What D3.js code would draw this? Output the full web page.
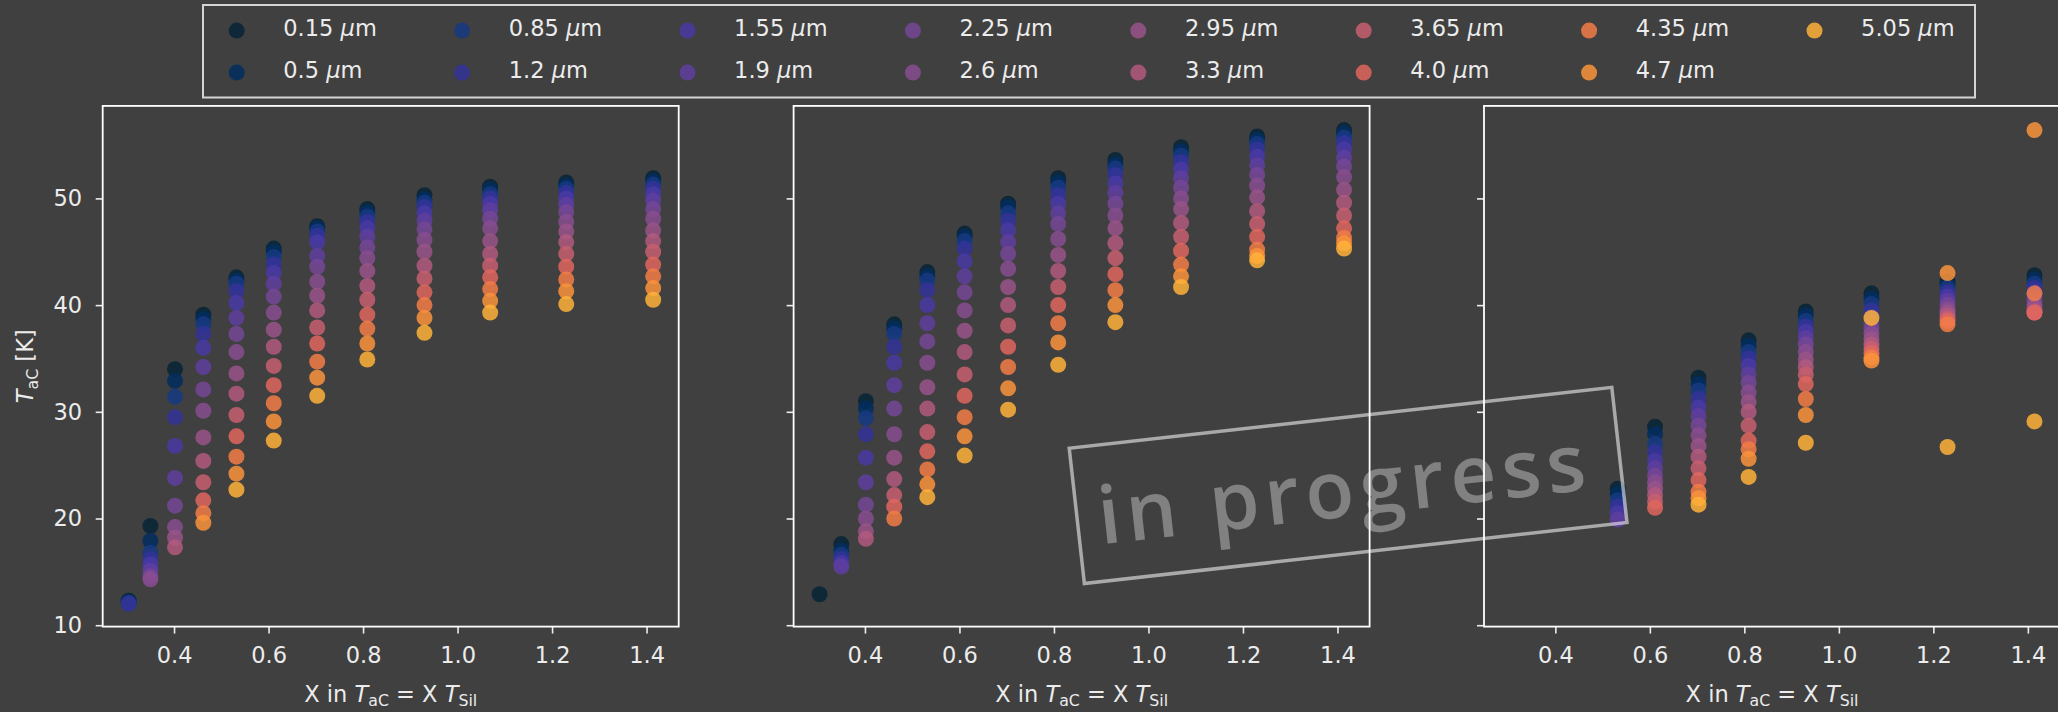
<!DOCTYPE html>
<html>
<head>
<meta charset="utf-8">
<script src="https://cdn.jsdelivr.net/npm/d3@7"></script>
<style>
  html, body { margin: 0; padding: 0; background: #404040; }
  svg { display: block; }
</style>
</head>
<body>
<svg id="chart" width="2058" height="712"></svg>
<script>
// ---- data -------------------------------------------------------------
// scaling factor X (T_aC = X * T_Sil) at which each column was computed
const xValues = [0.304, 0.350, 0.402, 0.462, 0.532, 0.611, 0.703, 0.809, 0.930, 1.069, 1.230, 1.414];

// grain sizes in micrometres (legend order)
const grainSizes = ["0.15", "0.5", "0.85", "1.2", "1.55", "1.9", "2.25", "2.6",
                    "2.95", "3.3", "3.65", "4.0", "4.35", "4.7", "5.05"];

const seriesColors = ["#072437", "#012d5f", "#183982", "#323299", "#4939a3",
                      "#5f3e9f", "#764797", "#884d90", "#995388", "#b1597f",
                      "#c85f70", "#e0665f", "#f27c47", "#fa933b", "#ffb139"];

const xTicks = [0.4, 0.6, 0.8, 1.0, 1.2, 1.4];
const yTicks = [10, 20, 30, 40, 50];

// T_aC [K] per column (one row per X value, one entry per grain size; null = no solution)
const leftPanel = [
  [12.3, 12.2, 12.1, 12.0, null, null, null, null, null, null, null, null, null, null, null],
  [19.3, 17.9, 16.8, 16.2, 15.7, 15.1, 14.6, 14.3, null, null, null, null, null, null, null],
  [34.0, 32.9, 31.4, 29.5, 26.8, 23.8, 21.2, 19.2, 18.2, 17.3, null, null, null, null, null],
  [39.1, 38.7, 38.2, 37.3, 36.0, 34.2, 32.1, 30.1, 27.6, 25.4, 23.4, 21.7, 20.5, 19.6, null],
  [42.6, 42.3, 42.0, 41.3, 40.2, 38.8, 37.3, 35.6, 33.6, 31.7, 29.7, 27.7, 25.8, 24.2, 22.7],
  [45.3, 45.0, 44.5, 43.8, 43.0, 42.0, 40.8, 39.3, 37.7, 36.1, 34.3, 32.5, 30.8, 29.1, 27.3],
  [47.4, 47.2, 46.9, 46.5, 45.9, 44.6, 43.6, 42.2, 40.9, 39.5, 37.9, 36.4, 34.7, 33.2, 31.5],
  [49.0, 48.7, 48.3, 47.8, 47.2, 46.4, 45.4, 44.4, 43.2, 41.8, 40.5, 39.1, 37.8, 36.4, 34.9],
  [50.3, 49.9, 49.6, 49.2, 48.6, 47.9, 47.1, 46.1, 45.0, 43.7, 42.5, 41.2, 40.0, 38.8, 37.4],
  [51.1, 50.8, 50.4, 50.0, 49.5, 48.9, 48.1, 47.2, 46.0, 44.8, 43.7, 42.6, 41.5, 40.4, 39.3],
  [51.5, 51.2, 50.9, 50.5, 50.0, 49.4, 48.7, 47.8, 46.9, 45.9, 44.8, 43.6, 42.4, 41.3, 40.1],
  [51.9, 51.6, 51.3, 50.9, 50.4, 49.8, 49.0, 48.1, 47.0, 46.0, 45.0, 43.8, 42.7, 41.6, 40.5]
];

const middlePanel = [
  [12.9, null, null, null, null, null, null, null, null, null, null, null, null, null, null],
  [17.6, 17.0, 16.6, 16.2, 15.8, 15.5, null, null, null, null, null, null, null, null, null],
  [31.0, 30.3, 29.4, 27.9, 25.7, 23.4, 21.3, 20.0, 18.8, 18.1, null, null, null, null, null],
  [38.2, 37.8, 37.3, 36.1, 34.6, 32.5, 30.3, 27.9, 25.7, 23.7, 22.2, 21.1, 20.0, null, null],
  [43.1, 42.7, 42.3, 41.4, 40.0, 38.3, 36.6, 34.6, 32.3, 30.3, 28.1, 26.3, 24.6, 23.2, 22.0],
  [46.7, 46.4, 46.0, 45.3, 44.1, 42.7, 41.2, 39.5, 37.6, 35.6, 33.5, 31.5, 29.5, 27.7, 25.9],
  [49.5, 49.2, 48.6, 47.9, 47.0, 45.9, 44.8, 43.4, 41.7, 40.0, 38.1, 36.1, 34.2, 32.2, 30.2],
  [51.9, 51.5, 51.0, 50.3, 49.5, 48.6, 47.6, 46.2, 44.7, 43.2, 41.7, 40.0, 38.3, 36.5, 34.4],
  [53.6, 53.2, 52.8, 52.2, 51.4, 50.5, 49.5, 48.4, 47.2, 45.8, 44.4, 42.9, 41.4, 40.0, 38.4],
  [54.8, 54.4, 54.0, 53.4, 52.7, 51.9, 51.0, 50.0, 49.0, 47.7, 46.4, 45.1, 43.8, 42.7, 41.7],
  [55.8, 55.5, 55.1, 54.6, 53.9, 53.1, 52.2, 51.2, 50.1, 48.8, 47.6, 46.4, 45.2, 44.6, 44.2],
  [56.4, 56.1, 55.7, 55.2, 54.6, 53.8, 53.0, 52.0, 50.8, 49.6, 48.4, 47.2, 46.3, 45.8, 45.3]
];

const rightPanel = [
  [null, null, null, null, null, null, null, null, null, null, null, null, null, null, null],
  [null, null, null, null, null, null, null, null, null, null, null, null, null, null, null],
  [null, null, null, null, null, null, null, null, null, null, null, null, null, null, null],
  [null, null, null, null, null, null, null, null, null, null, null, null, null, null, null],
  [22.8, 22.3, 21.7, 21.1, 20.5, 19.9, null, null, null, null, null, null, null, null, null],
  [28.6, 27.9, 27.0, 26.2, 25.4, 24.7, 24.0, 23.4, 22.8, 22.2, 21.6, 21.0, null, null, null],
  [33.2, 32.6, 32.0, 31.2, 30.4, 29.6, 28.7, 27.8, 26.8, 25.8, 24.7, 23.6, 22.5, 21.9, 21.3],
  [36.7, 36.2, 35.6, 35.0, 34.3, 33.5, 32.7, 31.8, 30.9, 30.0, 28.7, 27.3, 26.5, 25.6, 23.9],
  [39.4, 39.0, 38.5, 38.0, 37.5, 36.9, 36.3, 35.6, 34.9, 34.2, 33.5, 32.6, 31.2, 29.7, 27.1],
  [41.1, 40.6, 40.1, 39.5, 38.9, 38.3, 37.8, 37.3, 36.8, 36.3, 35.9, 35.5, 35.1, 34.8, 38.8],
  [42.2, 41.9, 41.6, 41.2, 40.8, 40.4, 40.0, 39.6, 39.3, 39.0, 38.7, 38.5, 38.2, 43.0, 26.7],
  [42.8, 42.4, 42.0, 41.6, 41.2, 40.8, 40.4, 40.0, 39.7, 39.4, 39.3, 39.3, 41.1, 56.4, 29.1]
];

const panels = [leftPanel, middlePanel, rightPanel];

// ---- layout -------------------------------------------------------------
const panelLefts = [102.7, 793.6, 1484.0];
const plotTop = 105.9, plotW = 576, plotH = 520.7;
const xDomain = [0.249, 1.468];
const yDomain = [9.87, 58.67];
const fg = "#ececec";
const fontMain = "'DejaVu Sans', sans-serif";
const fontSize = 22.5;
const markerR = 8;
const markerAlpha = 0.85;

const svg = d3.select("#chart");
svg.append("rect").attr("width", 2058).attr("height", 712).attr("fill", "#404040");

const x = d3.scaleLinear().domain(xDomain).range([0, plotW]);
const y = d3.scaleLinear().domain(yDomain).range([plotH, 0]);

// appends "T" (italic) with an upright subscript
function addTsub(textSel, sub, size) {
  textSel.append("tspan").attr("font-style", "italic").text("T");
  textSel.append("tspan").attr("font-size", size * 0.7).attr("dy", size * 0.2).text(sub);
  return textSel;
}

panels.forEach((cols, p) => {
  const g = svg.append("g").attr("transform", `translate(${panelLefts[p]},${plotTop})`);

  // scatter markers, one series at a time
  grainSizes.forEach((gs, s) => {
    const pts = [];
    cols.forEach((col, xi) => { if (col[s] != null) pts.push({ x: xValues[xi], y: col[s] }); });
    g.append("g").selectAll("circle").data(pts).join("circle")
      .attr("cx", d => x(d.x)).attr("cy", d => y(d.y)).attr("r", markerR)
      .attr("fill", seriesColors[s]).attr("fill-opacity", markerAlpha);
  });

  // axes
  const xAxis = d3.axisBottom(x).tickValues(xTicks).tickFormat(d3.format(".1f"))
    .tickSize(7).tickPadding(13.7);
  const yAxis = d3.axisLeft(y).tickValues(yTicks).tickSize(7).tickPadding(13.5)
    .tickFormat(p === 0 ? d3.format("d") : () => "");

  const gx = g.append("g").attr("transform", `translate(0,${plotH})`).call(xAxis);
  const gy = g.append("g").call(yAxis);
  [gx, gy].forEach(a => {
    a.select(".domain").remove();
    a.selectAll(".tick line").attr("stroke", fg).attr("stroke-width", 1.6);
    a.selectAll(".tick text").attr("fill", fg).attr("font-family", fontMain).attr("font-size", fontSize);
  });

  // frame
  g.append("rect").attr("width", plotW).attr("height", plotH)
    .attr("fill", "none").attr("stroke", "#ffffff").attr("stroke-width", 1.8);

  // x label
  const xl = g.append("text").attr("x", plotW / 2).attr("y", 702 - plotTop)
    .attr("text-anchor", "middle").attr("fill", fg)
    .attr("font-family", fontMain).attr("font-size", fontSize);
  xl.append("tspan").text("X in ");
  addTsub(xl, "aC", fontSize);
  xl.append("tspan").attr("dy", -fontSize * 0.2).text(" = X ");
  addTsub(xl, "Sil", fontSize);
});

// y label
const yl = svg.append("text")
  .attr("transform", `translate(33,${plotTop + plotH / 2}) rotate(-90)`)
  .attr("text-anchor", "middle").attr("fill", fg)
  .attr("font-family", fontMain).attr("font-size", fontSize);
addTsub(yl, "aC", fontSize);
yl.append("tspan").attr("dy", -fontSize * 0.2).text(" [K]");

// legend: 8 columns x 2 rows, filled column by column
const legend = svg.append("g");
legend.append("rect").attr("x", 203).attr("y", 5).attr("width", 1772).attr("height", 92.5)
  .attr("fill", "#404040").attr("stroke", "#d4d4d4").attr("stroke-width", 2);
grainSizes.forEach((gs, i) => {
  const col = Math.floor(i / 2), row = i % 2;
  const mx = 236.7 + col * 225.4, my = 30.6 + row * 42;
  legend.append("circle").attr("cx", mx).attr("cy", my).attr("r", markerR)
    .attr("fill", seriesColors[i]).attr("fill-opacity", markerAlpha);
  const t = legend.append("text").attr("x", mx + 46.6).attr("y", 35.5 + row * 42)
    .attr("fill", fg).attr("font-family", fontMain).attr("font-size", fontSize);
  t.append("tspan").text(gs + " ");
  t.append("tspan").attr("font-style", "italic").text("\u03bc");
  t.append("tspan").text("m");
});

// "in progress" stamp across the middle and right panels
const stamp = svg.append("g").attr("transform", "translate(1348.1,485.4) rotate(-6.41)");
stamp.append("text").attr("x", -4).attr("y", 31).attr("text-anchor", "middle")
  .attr("font-family", "'Open Sans', sans-serif").attr("font-size", 80).attr("font-weight", 600)
  .attr("letter-spacing", 6).attr("fill", "#ffffff").attr("fill-opacity", 0.34)
  .text("in progress");
stamp.append("rect").attr("x", -273).attr("y", -68).attr("width", 546).attr("height", 136)
  .attr("fill", "none").attr("stroke", "#ffffff").attr("stroke-opacity", 0.55).attr("stroke-width", 3.5);
</script>
</body>
</html>
